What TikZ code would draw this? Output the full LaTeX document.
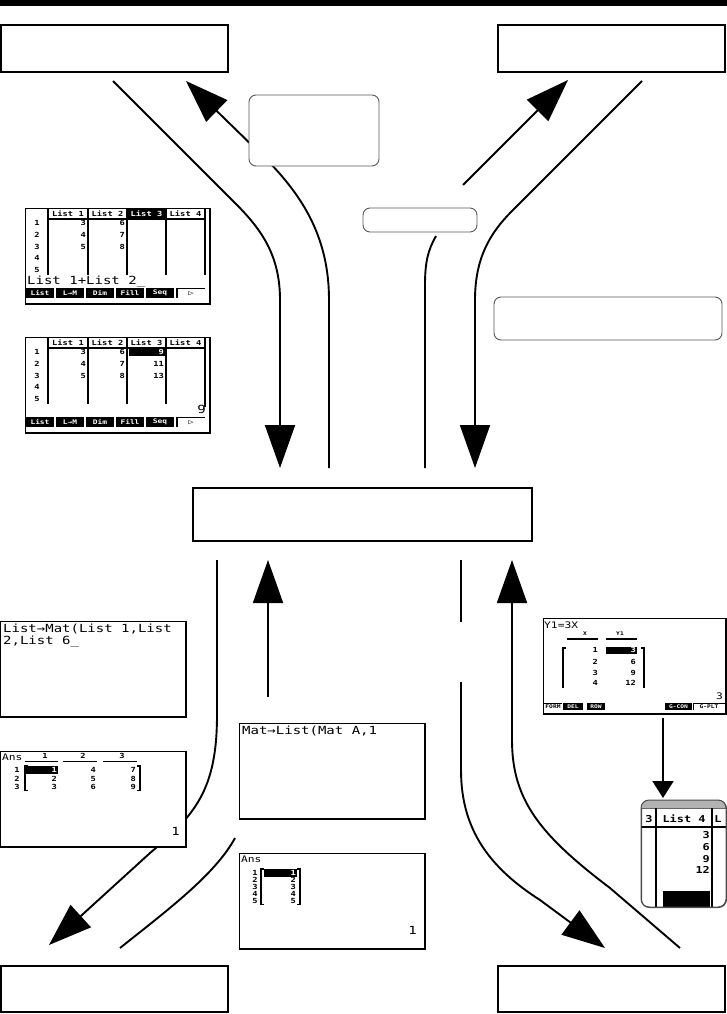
\documentclass[tikz,border=0pt]{standalone}
\usepackage{fontspec}
\usetikzlibrary{arrows.meta}
\newfontfamily\lcd{DejaVu Sans Mono}[FakeStretch=1.25]
\tikzset{
  frame/.style={draw, line width=2.6pt, inner sep=0pt, fill=white},
  note/.style={draw=black!65, line width=0.9pt, rounded corners=7pt, inner sep=0pt, fill=white},
  conn/.style={line width=1.9pt},
  bigtip/.style={-{Triangle[length=43pt,width=30pt]}},
  screen/.style={draw, line width=1pt, fill=white, inner sep=0pt, anchor=north west},
  lcds/.style={font=\lcd\bfseries\fontsize{7}{7}\selectfont, inner sep=0pt},
  lcdm/.style={font=\lcd\fontsize{9}{9}\selectfont, inner sep=0pt},
  lcdh/.style={font=\lcd\bfseries\fontsize{9.5}{9.5}\selectfont, inner sep=0pt},
  lcdb/.style={font=\lcd\fontsize{11.2}{12}\selectfont, inner sep=0pt},
  lcdmenu/.style={font=\lcd\bfseries\fontsize{6.3}{6.3}\selectfont, inner sep=0pt, text=white},
  lcdtiny/.style={font=\lcd\bfseries\fontsize{5}{5}\selectfont, inner sep=0pt},
  gridl/.style={line width=1.2pt},
}
\begin{document}
\begin{tikzpicture}[x=1pt,y=-1pt]
\useasboundingbox (0,0) rectangle (727,1014);
\fill[white] (0,0) rectangle (727,1014);
\fill (0,0) rectangle (727,6);

% main boxes
\node[frame, minimum width=227pt, minimum height=47pt] (tl) at (114.5,48.5) {};
\node[frame, minimum width=227pt, minimum height=47pt] (tr) at (611.5,48.5) {};
\node[frame, minimum width=227pt, minimum height=46pt] (bl) at (114.5,989) {};
\node[frame, minimum width=227pt, minimum height=46pt] (br) at (611.5,989) {};
\node[frame, minimum width=339pt, minimum height=53pt] (ctr) at (362.5,514.5) {};

% connector end points
\coordinate (a0) at (113,81);   \coordinate (a1) at (280,468);
\coordinate (b0) at (329,468);  \coordinate (b1) at (186,81);
\coordinate (c0) at (642,81);   \coordinate (c1) at (475,468);
\coordinate (d0) at (425,468);  \coordinate (d1) at (436,236);
\coordinate (d2) at (463,185);  \coordinate (d3) at (568,80);
\coordinate (e0) at (217,560);  \coordinate (e1) at (49,945);
\coordinate (f0) at (268,697);  \coordinate (f1) at (268,560);
\coordinate (f2) at (120,948);  \coordinate (f3) at (235,838);
\coordinate (g0) at (461,560);  \coordinate (g1) at (461,622);
\coordinate (g2) at (461,682);  \coordinate (g3) at (605,948);
\coordinate (h0) at (680,948);  \coordinate (h1) at (512,560);

% curves
\draw[conn, bigtip] (a0) -- (236,204) .. controls (262,230) and (280,256) .. (280,300) -- (a1);
\draw[conn, bigtip] (b0) -- (329,300) .. controls (329,240) and (305,198) .. (265,158) -- (b1);
\draw[conn, bigtip] (c0) -- (512,211) .. controls (490,233) and (475,258) .. (475,300) -- (c1);
\draw[conn] (d0) -- (425,285) .. controls (425,262) and (428,250) .. (d1);
\draw[conn, bigtip] (d2) -- (d3);
\draw[conn, bigtip] (e0) -- (217,715) .. controls (217,790) and (195,815) .. (150,853) -- (e1);
\draw[conn, bigtip] (f0) -- (f1);
\draw[conn] (f2) .. controls (165,912) and (215,875) .. (f3);
\draw[conn] (g0) -- (g1);
\draw[conn, bigtip] (g2) -- (461,770) .. controls (461,830) and (490,868) .. (540,900) -- (g3);
\draw[conn, bigtip] (h0) -- (610,888) .. controls (540,835) and (512,800) .. (512,740) -- (h1);

% rounded note boxes
\node[note, minimum width=130pt, minimum height=71pt] (n1) at (314,130.5) {};
\node[note, minimum width=114pt, minimum height=24pt] (n2) at (420,220) {};
\node[note, minimum width=228pt, minimum height=43pt] (n3) at (608,318.5) {};

% ---------- screen: list editor 1 ----------
\begin{scope}[shift={(25,208)}]
\node[screen, minimum width=184pt, minimum height=95pt] (sa) at (0,0) {};
\draw[line width=2pt] (sa.north east) -- (sa.south east) -- (sa.south west);
\fill (102,0.5) rectangle (141,10.5);
\foreach \x in {23,63,102,141,180} \draw[gridl] (\x,0.5) -- (\x,67);
\draw[line width=1.8pt] (23,11) -- (180,11);
\node[lcds] at (43,5.5) {List 1};
\node[lcds] at (82.5,5.5) {List 2};
\node[lcds, text=white] at (121.5,5.5) {List 3};
\node[lcds] at (160.5,5.5) {List 4};
\foreach \y [count=\i] in {15,27,38.5,50,62} \node[lcds] at (12,\y) {\i};
\foreach \y/\a/\b in {15/3/6,27/4/7,38.5/5/8} {\node[lcds,anchor=east] at (61,\y) {\a}; \node[lcds,anchor=east] at (100,\y) {\b};}
\node[lcdb, anchor=base west] at (2,76) {List 1+List 2\_};
\foreach \t [count=\i from 0] in {List,L→M,Dim,Fill,Seq} {\fill (1+30*\i,80) rectangle +(28,10); \node[lcdmenu] at (15+30*\i,85) {\t};}
\draw[line width=1.5pt] (152,90) -- (152,80.7) -- (180,80.7);
\node[lcds] at (166,85.5) {▷};
\end{scope}

% ---------- screen: list editor 2 ----------
\begin{scope}[shift={(25,337)}]
\node[screen, minimum width=184pt, minimum height=95pt] (sb) at (0,0) {};
\draw[line width=2pt] (sb.north east) -- (sb.south east) -- (sb.south west);
\fill (104,11) rectangle (140,19);
\foreach \x in {23,63,102,141} \draw[gridl] (\x,0.5) -- (\x,67);
\draw[gridl] (180,0.5) -- (180,70);
\draw[line width=1.8pt] (23,11) -- (180,11);
\node[lcds] at (43,5.5) {List 1};
\node[lcds] at (82.5,5.5) {List 2};
\node[lcds] at (121.5,5.5) {List 3};
\node[lcds] at (160.5,5.5) {List 4};
\foreach \y [count=\i] in {15,27,38.5,50,62} \node[lcds] at (12,\y) {\i};
\foreach \y/\a/\b in {15/3/6,27/4/7,38.5/5/8} {\node[lcds,anchor=east] at (61,\y) {\a}; \node[lcds,anchor=east] at (100,\y) {\b};}
\node[lcds, anchor=east, text=white] at (139,15) {9};
\node[lcds, anchor=east] at (139,27) {11};
\node[lcds, anchor=east] at (139,38.5) {13};
\node[lcdb, anchor=base east] at (181,76) {9};
\foreach \t [count=\i from 0] in {List,L→M,Dim,Fill,Seq} {\fill (1+30*\i,80) rectangle +(28,10); \node[lcdmenu] at (15+30*\i,85) {\t};}
\draw[line width=1.5pt] (152,90) -- (152,80.7) -- (180,80.7);
\node[lcds] at (166,85.5) {▷};
\end{scope}

% ---------- screen: List->Mat ----------
\begin{scope}[shift={(0,621)}]
\node[screen, minimum width=185pt, minimum height=95pt] (sc) at (0,0) {};
\draw[line width=2pt] (sc.north east) -- (sc.south east) -- (sc.south west);
\node[lcdb, anchor=base west] at (3,11.5) {List→Mat(List 1,List};
\node[lcdb, anchor=base west] at (3,23.5) {2,List 6\_};
\end{scope}

% ---------- screen: Ans 3x3 ----------
\begin{scope}[shift={(0,751)}]
\node[screen, minimum width=185pt, minimum height=95pt] (sd) at (0,0) {};
\draw[line width=2pt] (sd.north east) -- (sd.south east) -- (sd.south west);
\node[lcdm, anchor=base west] at (2,9) {Ans};
\node[lcds] at (45,5) {1}; \node[lcds] at (83,5) {2}; \node[lcds] at (122,5) {3};
\draw[line width=1pt] (25,10) -- (58,10) (63,10) -- (97,10) (103,10) -- (137,10);
\foreach \y [count=\i] in {19,27.5,36} \node[lcds] at (17,\y) {\i};
\draw[line width=1.1pt] (28,15) -- (25,15) -- (25,39.5) -- (28,39.5);
\draw[line width=1.1pt] (137,15) -- (140,15) -- (140,39.5) -- (137,39.5);
\fill (25,15) rectangle (58,23);
\node[lcds, anchor=east, text=white] at (57,19) {1};
\node[lcds, anchor=east] at (57,27.5) {2}; \node[lcds, anchor=east] at (57,36) {3};
\node[lcds, anchor=east] at (96,19) {4}; \node[lcds, anchor=east] at (96,27.5) {5}; \node[lcds, anchor=east] at (96,36) {6};
\node[lcds, anchor=east] at (136,19) {7}; \node[lcds, anchor=east] at (136,27.5) {8}; \node[lcds, anchor=east] at (136,36) {9};
\node[lcdb, anchor=base east] at (180,84) {1};
\end{scope}

% ---------- screen: Mat->List ----------
\begin{scope}[shift={(239,723)}]
\node[screen, minimum width=185pt, minimum height=95pt] (se) at (0,0) {};
\draw[line width=2pt] (se.north east) -- (se.south east) -- (se.south west);
\node[lcdb, anchor=base west] at (3,11.5) {Mat→List(Mat A,1};
\end{scope}

% ---------- screen: Ans 5x1 ----------
\begin{scope}[shift={(239,853)}]
\node[screen, minimum width=185pt, minimum height=95pt] (sf) at (0,0) {};
\draw[line width=2pt] (sf.north east) -- (sf.south east) -- (sf.south west);
\node[lcdm, anchor=base west] at (2,9) {Ans};
\foreach \y [count=\i] in {20,27,34,41,48} \node[lcds] at (16,\y) {\i};
\draw[line width=1.1pt] (25,16) -- (22,16) -- (22,51.5) -- (25,51.5);
\draw[line width=1.1pt] (58,16) -- (61,16) -- (61,51.5) -- (58,51.5);
\fill (25,16) rectangle (58,24);
\node[lcds, anchor=east, text=white] at (57,20) {1};
\foreach \y/\v in {27/2,34/3,41/4,48/5} \node[lcds, anchor=east] at (57,\y) {\v};
\node[lcdb, anchor=base east] at (178,81) {1};
\end{scope}

% ---------- screen: table ----------
\begin{scope}[shift={(543,618)}]
\node[screen, minimum width=182pt, minimum height=95pt] (sg) at (0,0) {};
\draw[line width=2pt] (sg.north east) -- (sg.south east) -- (sg.south west);
\node[lcdm, anchor=base west] at (1,10) {Y1=3X};
\node[lcdtiny] at (42,16) {X}; \node[lcdtiny] at (77,16) {Y1};
\draw[line width=1.1pt] (24,21) -- (55,21) (63,21) -- (94,21);
\draw[line width=1.1pt] (23,30) -- (20,30) -- (20,70);
\draw[line width=1.1pt] (98,30) -- (101,30) -- (101,70);
\fill (63,29) rectangle (94,36);
\foreach \y/\a/\b in {32/1/3,44/2/6,55/3/9,65/4/12} {\node[lcds, anchor=east] at (55,\y) {\a};}
\node[lcds, anchor=east, text=white] at (93,32) {3};
\node[lcds, anchor=east] at (93,44) {6};
\node[lcds, anchor=east] at (93,55) {9};
\node[lcds, anchor=east] at (93,65) {12};
\node[lcdm, anchor=base east] at (180,81) {3};
\draw[line width=1.1pt] (0.6,92) -- (0.6,85.5) -- (19,85.5);
\node[lcdtiny] at (10,89) {FORM};
\fill (20,85) rectangle (40,92); \node[lcdtiny, text=white] at (30,88.5) {DEL};
\fill (44,85) rectangle (62,92); \node[lcdtiny, text=white] at (53,88.5) {ROW};
\fill (122,85) rectangle (149,92); \node[lcdtiny, text=white] at (135.5,88.5) {G-CON};
\draw[line width=1.1pt] (150.5,92) -- (150.5,85.5) -- (182,85.5);
\node[lcdtiny] at (166,89) {G-PLT};
\end{scope}

% ---------- cropped list screen ----------
\begin{scope}[shift={(641,800)}]
\node[draw=black!70, line width=1pt, rounded corners=8pt, minimum width=85pt, minimum height=107pt, anchor=north west, inner sep=0pt, fill=white] (sh) at (0,0) {};
\begin{scope}
\clip[rounded corners=8pt] (0,0) rectangle (85,107);
\fill[black!30] (0,0) rectangle (85,8);
\draw[black!60, line width=0.8pt] (0,8) -- (85,8);
\draw[line width=1.5pt] (15,8) -- (15,107) (71,8) -- (71,107);
\draw[line width=1.5pt] (0,27) -- (85,27);
\fill (22,91) rectangle (69,107);
\end{scope}
\draw[black!70, line width=1pt, rounded corners=8pt] (0,0) rectangle (85,107);
\node[lcdh, anchor=base] at (8,22) {3};
\node[lcdh, anchor=base] at (43,22) {List 4};
\node[lcdh, anchor=base] at (77,22) {L};
\foreach \y/\v in {38/3,50/6,62/9,73/12} \node[lcdh, anchor=base east] at (69,\y) {\v};
\end{scope}

% small arrow
\coordinate (k0) at (663,718);
\coordinate (k1) at (663,798);
\draw[conn, -{Triangle[length=17pt,width=21pt]}] (k0) -- (k1);

\end{tikzpicture}
\end{document}
